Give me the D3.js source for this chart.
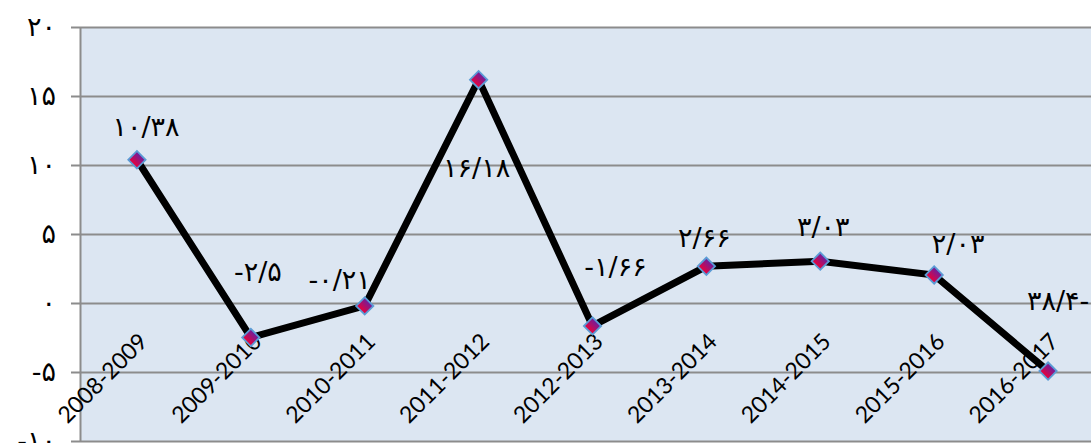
<!DOCTYPE html>
<html><head><meta charset="utf-8">
<script src="https://cdn.jsdelivr.net/npm/d3@7"></script>
<style>
html,body{margin:0;padding:0;background:#fff;overflow:hidden;}
.fa{direction:ltr;unicode-bidi:bidi-override;font-family:"DejaVu Sans",sans-serif;}
</style></head>
<body><svg id="chart" width="1091" height="443"></svg>
<script>
const categories = ["2008-2009","2009-2010","2010-2011","2011-2012","2012-2013","2013-2014","2014-2015","2015-2016","2016-2017"];
const values = [10.38, -2.5, -0.21, 16.18, -1.66, 2.66, 3.03, 2.03, -4.93];
const valueLabels = ["۱۰/۳۸","-۲/۵","-۰/۲۱","۱۶/۱۸","-۱/۶۶","۲/۶۶","۳/۰۳","۲/۰۳","۳۸/۴-"];
const yTickValues = [-10,-5,0,5,10,15,20];
const yTickLabels = ["-۱۰","-۵","۰","۵","۱۰","۱۵","۲۰"];
// layout nudges for data labels (dx, dy) relative to markers
const labelNudge = [[9,-33],[7,-66],[-25,-26],[-2,88],[23,-59],[-2,-29],[3,-35],[24,-31],[10,-70]];

(function(){
const svg = d3.select("#chart");
const pL = 80, pR = 1105, pT = 27, pB = 441;
const x = d3.scaleBand().domain(categories).range([pL, pR]).padding(0);
const cx = c => x(c) + x.bandwidth()/2;
const y = d3.scaleLinear().domain([-10, 20]).range([pB, pT]);

const defs = svg.append("defs");
const g = defs.append("linearGradient").attr("id","mk").attr("x1",0).attr("y1",0).attr("x2",0).attr("y2",1);
g.append("stop").attr("offset","0%").attr("stop-color","#6a1fa0");
g.append("stop").attr("offset","100%").attr("stop-color","#ec0038");

svg.append("rect").attr("x",pL).attr("y",pT).attr("width",pR-pL).attr("height",pB-pT).attr("fill","#dce6f2");

const yAxis = d3.axisLeft(y).tickValues(yTickValues).tickSize(-(pR-pL)).tickSizeOuter(0)
  .tickFormat(d=>yTickLabels[yTickValues.indexOf(d)]);
const ya = svg.append("g").attr("transform",`translate(${pL},0)`).call(yAxis);
ya.attr("font-family",null).attr("font-size",null);
ya.select(".domain").attr("stroke","#8c8c8c").attr("stroke-width",2);
ya.selectAll(".tick line").attr("stroke","#8c8c8c").attr("stroke-width",2).attr("x1",-9);
ya.selectAll(".tick text").attr("class","fa").attr("x",-24).attr("dy","0.3em")
  .style("font-size","27px").style("letter-spacing","4px").attr("fill","#000");

svg.append("g").selectAll("text").data(categories).join("text")
  .attr("transform",c=>`translate(${cx(c)+12},${y(0)+40}) rotate(-45)`)
  .attr("text-anchor","end").attr("font-family","Lato").attr("font-size",23).attr("fill","#000")
  .text(c=>c);

const line = d3.line().x((d,i)=>cx(categories[i])).y(d=>y(d));
svg.append("path").datum(values).attr("d",line).attr("fill","none").attr("stroke","#000")
  .attr("stroke-width",7).attr("stroke-linejoin","miter");

const sym = d3.symbol().type(d3.symbolSquare).size(150);
svg.append("g").selectAll("path").data(values).join("path")
  .attr("d",sym).attr("transform",(d,i)=>`translate(${cx(categories[i])},${y(d)}) rotate(45)`)
  .attr("fill","url(#mk)").attr("stroke","#5b9bd5").attr("stroke-width",1.8);

svg.append("g").selectAll("text").data(values).join("text").attr("class","fa")
  .attr("x",(d,i)=>cx(categories[i])+labelNudge[i][0])
  .attr("y",(d,i)=>y(d)+labelNudge[i][1])
  .attr("dy","0.35em").attr("text-anchor","middle")
  .style("font-size","27px").style("letter-spacing","3px").attr("fill","#000")
  .text((d,i)=>valueLabels[i]);
})();
</script></body></html>
